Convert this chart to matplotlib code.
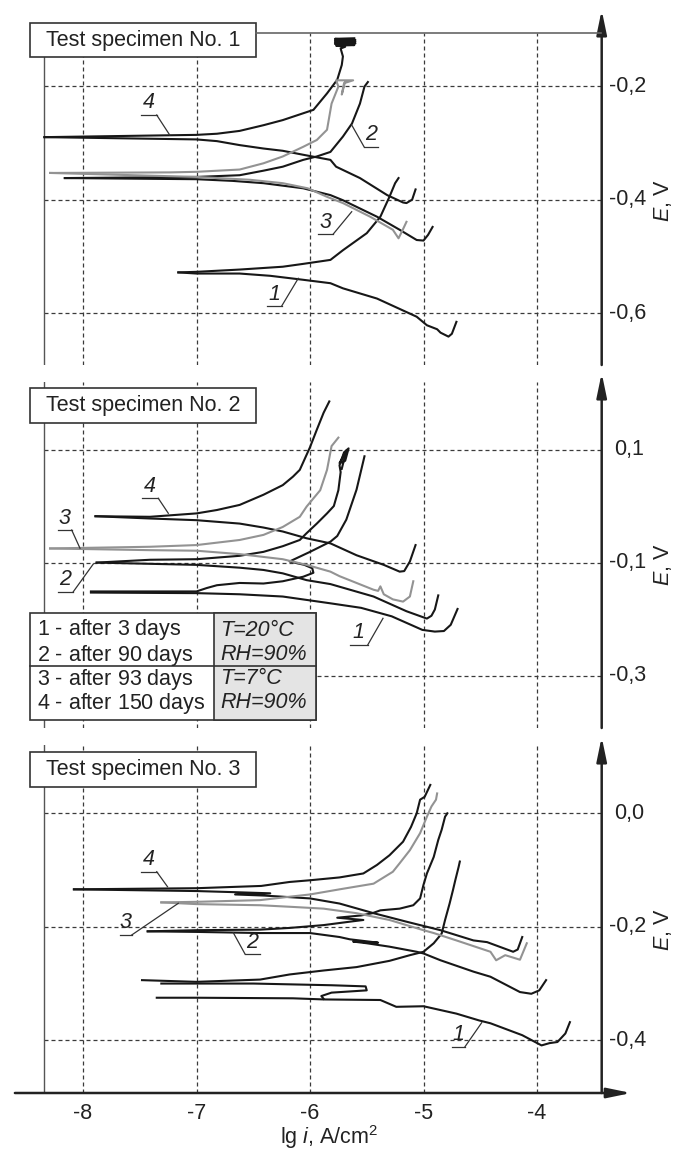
import matplotlib
matplotlib.use("Agg")
import matplotlib.pyplot as plt
from matplotlib.patches import Rectangle
from matplotlib.lines import Line2D
from matplotlib.transforms import Affine2D

plt.rcParams['font.family'] = ['Liberation Sans', 'DejaVu Sans']
plt.rcParams['mathtext.fontset'] = 'custom'
plt.rcParams['mathtext.rm'] = 'Liberation Sans'
plt.rcParams['mathtext.it'] = 'Liberation Sans:italic'

# ---------------- data: (lg i, E) ----------------
x_ticks = [-8, -7, -6, -5, -4]
s1_ticks = [-0.2, -0.4, -0.6]
s2_ticks = [0.1, -0.1, -0.3]
s3_ticks = [0.0, -0.2, -0.4]

# specimen 1
s1_c1_cath = [(-7.16, -0.528), (-7.0, -0.530), (-6.62, -0.530), (-6.35, -0.534), (-6.06, -0.541),
              (-5.82, -0.547), (-5.71, -0.556), (-5.41, -0.574), (-5.06, -0.606), (-4.97, -0.621),
              (-4.88, -0.628), (-4.85, -0.634), (-4.78, -0.641), (-4.75, -0.636), (-4.71, -0.615)]
s1_c1_anod = [(-7.16, -0.528), (-7.0, -0.527), (-6.62, -0.523), (-6.24, -0.518), (-6.06, -0.513),
              (-5.82, -0.506), (-5.71, -0.489), (-5.5, -0.459), (-5.38, -0.430), (-5.30, -0.395),
              (-5.25, -0.371), (-5.22, -0.362)]
s1_c2_cath = [(-8.16, -0.362), (-7.0, -0.364), (-6.68, -0.367), (-6.41, -0.371), (-6.06, -0.380),
              (-5.82, -0.392), (-5.71, -0.401), (-5.41, -0.430), (-5.21, -0.453), (-5.06, -0.471),
              (-5.0, -0.472), (-4.96, -0.462), (-4.92, -0.448)]
s1_c2_anod = [(-8.16, -0.362), (-7.0, -0.360), (-6.62, -0.357), (-6.41, -0.349), (-6.24, -0.342),
              (-6.06, -0.330), (-5.94, -0.324), (-5.82, -0.316), (-5.71, -0.289), (-5.63, -0.266),
              (-5.56, -0.231), (-5.52, -0.201), (-5.49, -0.193)]
s1_c3_cath = [(-8.29, -0.353), (-7.0, -0.360), (-6.53, -0.365), (-6.24, -0.371), (-6.02, -0.380),
              (-5.85, -0.395), (-5.71, -0.406), (-5.47, -0.430), (-5.27, -0.453), (-5.22, -0.468),
              (-5.19, -0.456), (-5.15, -0.439)]
s1_c3_anod = [(-8.29, -0.353), (-7.23, -0.352), (-7.0, -0.351), (-6.62, -0.347), (-6.41, -0.336),
              (-6.24, -0.324), (-6.06, -0.307), (-5.94, -0.295), (-5.85, -0.277), (-5.81, -0.231),
              (-5.75, -0.201), (-5.77, -0.190), (-5.62, -0.190), (-5.70, -0.195), (-5.72, -0.215),
              (-5.69, -0.192)]
s1_c4_cath = [(-8.34, -0.290), (-7.0, -0.294), (-6.82, -0.297), (-6.62, -0.304), (-6.41, -0.310),
              (-6.24, -0.314), (-6.06, -0.321), (-5.82, -0.330), (-5.77, -0.342), (-5.56, -0.362),
              (-5.32, -0.392), (-5.18, -0.405), (-5.15, -0.406), (-5.10, -0.400), (-5.07, -0.382)]
s1_c4_anod = [(-8.34, -0.290), (-7.0, -0.286), (-6.82, -0.284), (-6.62, -0.279), (-6.41, -0.269),
              (-6.24, -0.260), (-6.06, -0.248), (-5.97, -0.242), (-5.85, -0.213), (-5.76, -0.189),
              (-5.72, -0.163), (-5.71, -0.148), (-5.73, -0.134), (-5.69, -0.131), (-5.77, -0.129),
              (-5.61, -0.128), (-5.78, -0.126), (-5.60, -0.125), (-5.78, -0.123), (-5.60, -0.122),
              (-5.78, -0.120), (-5.60, -0.119), (-5.78, -0.117), (-5.61, -0.116)]

# specimen 2
s2_c1_cath = [(-7.93, -0.153), (-7.0, -0.154), (-6.62, -0.156), (-6.24, -0.160), (-6.03, -0.166),
              (-5.82, -0.172), (-5.55, -0.180), (-5.28, -0.195), (-5.01, -0.219), (-4.90, -0.222),
              (-4.82, -0.221), (-4.76, -0.210), (-4.70, -0.182)]
s2_c1_anod = [(-7.93, -0.151), (-7.0, -0.151), (-6.91, -0.145), (-6.82, -0.140), (-6.62, -0.136),
              (-6.41, -0.137), (-6.24, -0.133), (-6.06, -0.125), (-5.97, -0.118), (-5.98, -0.110),
              (-6.05, -0.104), (-6.18, -0.098), (-6.0, -0.081), (-5.82, -0.063), (-5.76, -0.053),
              (-5.68, -0.024), (-5.59, 0.029), (-5.52, 0.088)]
s2_c2_cath = [(-7.88, -0.100), (-7.0, -0.104), (-6.62, -0.109), (-6.41, -0.113), (-6.24, -0.119),
              (-6.03, -0.131), (-5.82, -0.138), (-5.44, -0.160), (-5.15, -0.186), (-4.97, -0.199),
              (-4.93, -0.194), (-4.90, -0.183), (-4.87, -0.158)]
s2_c2_anod = [(-7.88, -0.100), (-7.41, -0.095), (-7.0, -0.094), (-6.62, -0.088), (-6.41, -0.081),
              (-6.24, -0.071), (-6.09, -0.060), (-6.03, -0.048), (-5.94, -0.031), (-5.85, -0.013),
              (-5.79, 0.000), (-5.75, 0.028), (-5.73, 0.060), (-5.74, 0.072), (-5.70, 0.095),
              (-5.66, 0.102), (-5.69, 0.080), (-5.74, 0.076), (-5.68, 0.098), (-5.72, 0.066)]
s2_c3_cath = [(-8.29, -0.075), (-7.41, -0.078), (-7.0, -0.079), (-6.62, -0.085), (-6.24, -0.094),
              (-6.03, -0.104), (-5.82, -0.116), (-5.74, -0.124), (-5.44, -0.148), (-5.40, -0.150),
              (-5.38, -0.142), (-5.35, -0.156), (-5.27, -0.165), (-5.18, -0.169), (-5.12, -0.160),
              (-5.09, -0.133)]
s2_c3_anod = [(-8.29, -0.075), (-7.41, -0.072), (-7.0, -0.069), (-6.62, -0.060), (-6.41, -0.051),
              (-6.24, -0.037), (-6.09, -0.019), (-6.03, -0.001), (-5.91, 0.028), (-5.85, 0.064),
              (-5.81, 0.106), (-5.75, 0.121)]
s2_c4_cath = [(-7.89, -0.018), (-7.41, -0.022), (-7.0, -0.025), (-6.62, -0.031), (-6.41, -0.038),
              (-6.24, -0.045), (-6.03, -0.057), (-5.82, -0.066), (-5.59, -0.087), (-5.35, -0.104),
              (-5.21, -0.116), (-5.17, -0.115), (-5.12, -0.098), (-5.07, -0.069)]
s2_c4_anod = [(-7.89, -0.018), (-7.41, -0.019), (-7.0, -0.013), (-6.82, -0.007), (-6.62, 0.002),
              (-6.41, 0.020), (-6.24, 0.037), (-6.15, 0.052), (-6.09, 0.064), (-6.0, 0.104),
              (-5.94, 0.135), (-5.88, 0.165), (-5.83, 0.185)]

# specimen 3
s3_c1_cath = [(-7.35, -0.325), (-7.0, -0.325), (-6.15, -0.326), (-5.88, -0.328), (-5.38, -0.329),
              (-5.24, -0.341), (-5.0, -0.340), (-4.71, -0.353), (-4.51, -0.365), (-4.41, -0.370),
              (-4.13, -0.391), (-3.96, -0.409), (-3.89, -0.405), (-3.82, -0.403), (-3.75, -0.388),
              (-3.71, -0.368)]
s3_c1_anod = [(-7.48, -0.294), (-7.0, -0.297), (-6.44, -0.293), (-6.18, -0.284), (-5.88, -0.277),
              (-5.59, -0.271), (-5.30, -0.260), (-5.12, -0.250), (-5.0, -0.244), (-4.91, -0.229),
              (-4.84, -0.212), (-4.81, -0.188), (-4.77, -0.159), (-4.74, -0.135), (-4.72, -0.118),
              (-4.69, -0.094), (-4.68, -0.085)]
s3_c1_loop = [(-7.31, -0.300), (-6.5, -0.300), (-5.81, -0.303), (-5.51, -0.305), (-5.50, -0.312),
              (-5.81, -0.316), (-5.90, -0.322), (-5.88, -0.327)]
s3_c2_cath = [(-7.43, -0.208), (-7.0, -0.209), (-6.44, -0.211), (-6.0, -0.211), (-5.74, -0.218),
              (-5.65, -0.222), (-5.40, -0.228), (-5.62, -0.226), (-5.50, -0.229), (-5.30, -0.235),
              (-5.06, -0.244), (-5.0, -0.247), (-4.85, -0.259), (-4.56, -0.279), (-4.41, -0.288),
              (-4.15, -0.315), (-4.05, -0.318), (-3.98, -0.312), (-3.92, -0.294)]
s3_c2_anod = [(-7.43, -0.208), (-7.0, -0.206), (-6.44, -0.205), (-6.18, -0.202), (-5.88, -0.197),
              (-5.65, -0.191), (-5.53, -0.188), (-5.76, -0.184), (-5.55, -0.180), (-5.45, -0.176),
              (-5.38, -0.171), (-5.21, -0.168), (-5.09, -0.162), (-5.03, -0.150), (-5.0, -0.126),
              (-4.97, -0.106), (-4.91, -0.077), (-4.87, -0.047), (-4.84, -0.029), (-4.81, -0.006),
              (-4.79, 0.000)]
s3_c3_cath = [(-7.31, -0.157), (-7.0, -0.160), (-6.44, -0.162), (-6.15, -0.165), (-5.88, -0.168),
              (-5.59, -0.176), (-5.30, -0.188), (-5.0, -0.206), (-4.91, -0.211), (-4.71, -0.224),
              (-4.41, -0.244), (-4.39, -0.250), (-4.36, -0.259), (-4.28, -0.250), (-4.15, -0.258),
              (-4.09, -0.229)]
s3_c3_anod = [(-7.31, -0.157), (-7.0, -0.156), (-6.44, -0.153), (-6.18, -0.147), (-6.0, -0.143),
              (-5.74, -0.134), (-5.44, -0.124), (-5.27, -0.103), (-5.21, -0.088), (-5.12, -0.065),
              (-5.03, -0.035), (-4.97, -0.006), (-4.93, 0.012), (-4.89, 0.024), (-4.88, 0.035)]
s3_c4_cath = [(-8.08, -0.134), (-7.0, -0.137), (-6.66, -0.139), (-6.35, -0.141), (-6.66, -0.143),
              (-6.40, -0.145), (-6.0, -0.150), (-5.74, -0.159), (-5.44, -0.176), (-5.15, -0.191),
              (-4.85, -0.206), (-4.56, -0.224), (-4.44, -0.227), (-4.21, -0.244), (-4.17, -0.240),
              (-4.13, -0.218)]
s3_c4_anod = [(-8.08, -0.134), (-7.0, -0.132), (-6.43, -0.128), (-6.18, -0.121), (-6.0, -0.118),
              (-5.74, -0.113), (-5.53, -0.106), (-5.41, -0.091), (-5.30, -0.074), (-5.18, -0.050),
              (-5.11, -0.024), (-5.06, 0.000), (-5.03, 0.024), (-4.99, 0.029), (-4.94, 0.050)]

legend_left = ['$\\mathit{1}$ - after 3 days', '$\\mathit{2}$ - after 90 days',
               '$\\mathit{3}$ - after 93 days', '$\\mathit{4}$ - after 150 days']
legend_right = ['T=20°C', 'RH=90%', 'T=7°C', 'RH=90%']

BLACK = '#171717'
GREY = '#939393'

# ---------------- layout (reference pixels) ----------------
W, H = 683, 1149
X_PX0, X_PPD = 310, 113.5          # pixel of lg i = -6, pixels per decade
LEFT_X, RIGHT_X = -8.34, -3.43     # left frame line, E axis
FS = 15.5

panels = [
    dict(top=33, bottom=365, ref_e=-0.2, ref_px=86, ppv=568.3, tip=10, ticks=s1_ticks,
         ylab=201, box=23, title='Test specimen No. 1',
         lines=[(s1_c1_cath, BLACK), (s1_c1_anod, BLACK), (s1_c2_cath, BLACK), (s1_c2_anod, BLACK),
                (s1_c4_cath, BLACK), (s1_c4_anod, BLACK), (s1_c3_cath, GREY), (s1_c3_anod, GREY)],
         labels=[('4', (141.4, 156.7, 115), (169.7, 135)), ('2', (364, 378.3, 146.7), (351.7, 125)),
                 ('3', (318.3, 333.3, 234), (351.7, 211.7)), ('1', (266.7, 281.7, 306), (298.3, 278.3))]),
    dict(top=382, bottom=728, ref_e=0.1, ref_px=449.5, ppv=565.5, tip=373, ticks=s2_ticks,
         ylab=565, box=388.3, title='Test specimen No. 2',
         lines=[(s2_c1_cath, BLACK), (s2_c1_anod, BLACK), (s2_c2_cath, BLACK), (s2_c2_anod, BLACK),
                (s2_c4_cath, BLACK), (s2_c4_anod, BLACK), (s2_c3_cath, GREY), (s2_c3_anod, GREY)],
         labels=[('4', (141.7, 158.3, 498.3), (168.3, 513.3)), ('3', (58, 71.7, 530), (80, 548.3)),
                 ('2', (57.7, 73.3, 591.7), (93.3, 564)), ('1', (350, 367.7, 645), (383, 618.3))]),
    dict(top=745, bottom=1093, ref_e=0.0, ref_px=813.3, ppv=567.5, tip=737, ticks=s3_ticks,
         ylab=929.5, box=752.3, title='Test specimen No. 3',
         lines=[(s3_c1_cath, BLACK), (s3_c1_anod, BLACK), (s3_c1_loop, BLACK), (s3_c2_cath, BLACK),
                (s3_c2_anod, BLACK), (s3_c4_cath, BLACK), (s3_c4_anod, BLACK),
                (s3_c3_cath, GREY), (s3_c3_anod, GREY)],
         labels=[('4', (141.4, 156.7, 871.7), (167.5, 886.7)), ('3', (120, 131.7, 935), (178.3, 903.3)),
                 ('2', (245, 260, 954), (233.3, 932.7)), ('1', (451.7, 465, 1046.7), (481.7, 1022.7))]),
]

fig = plt.figure(figsize=(W / 100, H / 100), dpi=100)
PX = Affine2D().scale(1 / W, -1 / H).translate(0, 1) + fig.transFigure
xlim = (-6 - X_PX0 / X_PPD, -6 + (W - X_PX0) / X_PPD)
grid_kw = dict(color='#3a3a3a', lw=0.9, ls=(0, (3.2, 2.4)))
arrow_kw = dict(arrowstyle='-|>,head_length=1.45,head_width=0.3', lw=1.8,
                color='#222222', shrinkA=0, shrinkB=0, mutation_scale=10)

for i, p in enumerate(panels):
    e_of = lambda py, p=p: p['ref_e'] - (py - p['ref_px']) / p['ppv']
    ax = fig.add_axes([0, 1 - p['bottom'] / H, 1, (p['bottom'] - p['top']) / H])
    ax.patch.set_visible(False)
    for s in ax.spines.values():
        s.set_visible(False)
    ybot, ytop = e_of(p['bottom']), e_of(p['top'])
    ax.set_xlim(*xlim)
    ax.set_ylim(ybot, ytop)
    ax.set_yticks([])

    for xv in x_ticks:
        ax.axvline(xv, **grid_kw, zorder=1)
    ax.hlines(p['ticks'], LEFT_X, RIGHT_X, **grid_kw, zorder=1)
    ax.axvline(LEFT_X, color='#555555', lw=1.0, zorder=1)

    for pts, col in p['lines']:
        xs = [q[0] for q in pts]
        es = [q[1] for q in pts]
        ax.plot(xs, es, color=col, lw=1.5, solid_joinstyle='round', zorder=3)

    # E axis with arrow
    ax.annotate('', xy=(RIGHT_X, e_of(p['tip'])), xytext=(RIGHT_X, ybot),
                arrowprops=arrow_kw, annotation_clip=False)
    for v in p['ticks']:
        ax.annotate(f'{v:.1f}'.replace('.', ','), xy=(RIGHT_X, v),
                    xytext=(5 if v < 0 else 9, 0), textcoords='offset points',
                    ha='left', va='center', fontsize=FS, color='#222222')
    fig.text(663, p['ylab'], '$E$, V', transform=PX, rotation=90, ha='center', va='center',
             fontsize=FS, color='#222222')

    # title box
    fig.add_artist(Rectangle((29.6, p['box']), 226.4, 34.4, transform=PX, facecolor='white',
                             edgecolor='#333333', lw=1.2))
    fig.text(143, p['box'] + 17.5, p['title'], transform=PX, ha='center', va='center',
             fontsize=FS, color='#222222')

    # curve labels with leaders
    for txt, (u0, u1, uy), (tx, ty) in p['labels']:
        sx = u1 if tx > u1 else u0
        fig.add_artist(Line2D([u0, u1], [uy, uy], transform=PX, color='#333333', lw=0.9))
        fig.add_artist(Line2D([sx, tx], [uy, ty], transform=PX, color='#333333', lw=0.9))
        fig.text((u0 + u1) / 2, uy - 1.5, txt, transform=PX, ha='center', va='bottom',
                 fontsize=FS, style='italic', color='#222222')

    if i == 0:
        fig.add_artist(Line2D([256, 601], [33, 33], transform=PX, color='#666666', lw=1.2))
    if i == 2:
        ax.set_xticks(x_ticks)
        ax.set_xticklabels([str(v) for v in x_ticks])
        ax.tick_params(axis='x', length=0, pad=7, labelsize=FS, labelcolor='#222222')
        ax.annotate('', xy=(-3.17, ybot), xytext=(-8.6, ybot),
                    arrowprops=arrow_kw, annotation_clip=False)
    else:
        ax.set_xticks([])

# legend table in panel 2
fig.add_artist(Rectangle((29.6, 612.7), 285.9, 107.3, transform=PX, facecolor='white',
                         edgecolor='#333333', lw=1.2, zorder=4))
fig.add_artist(Rectangle((214, 612.7), 101.5, 107.3, transform=PX, facecolor='#e4e4e4',
                         edgecolor='#333333', lw=1.2, zorder=4))
fig.add_artist(Line2D([29.6, 315.5], [666, 666], transform=PX, color='#333333', lw=1.2, zorder=5))
for k, yy in enumerate([630, 655, 679, 703]):
    fig.text(37, yy, legend_left[k], transform=PX, ha='left', va='center', fontsize=FS,
             color='#222222', zorder=6)
    fig.text(220, yy, legend_right[k], transform=PX, ha='left', va='center', fontsize=FS,
             style='italic', color='#222222', zorder=6)

fig.text(329.6, 1137, 'lg $i$, A/cm$^2$', transform=PX, ha='center', va='center',
         fontsize=FS, color='#222222')

fig.savefig('out.png', dpi=100)
